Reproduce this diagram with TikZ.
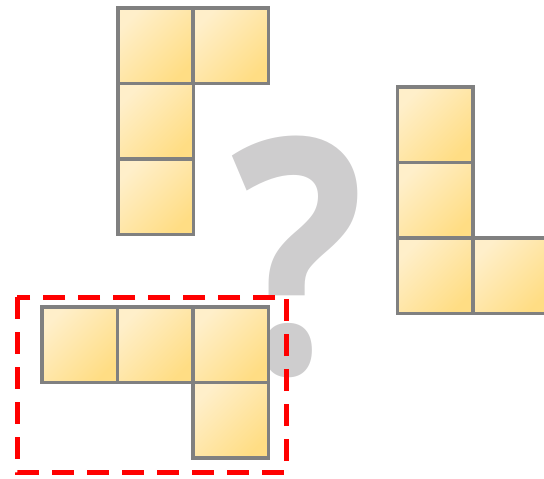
\documentclass[tikz,border=0pt]{standalone}
\usepackage{fontspec}
\newfontfamily\qfont{Open Sans}
\definecolor{tilelight}{RGB}{255,239,202}
\definecolor{tiledark}{RGB}{255,221,132}
\definecolor{tileedge}{RGB}{128,128,128}
\definecolor{qgray}{RGB}{206,205,206}
\definecolor{dashred}{RGB}{255,0,0}
\tikzset{
  tile/.style={shade, top color=tilelight, bottom color=tiledark, shading angle=45, draw=tileedge, line width=3.8pt},
  selbox/.style={draw=dashred, line width=5pt, dash pattern=on 22pt off 13pt},
}
\newcommand{\tileat}[2]{\path[tile] (#1,#2) rectangle ++(75.5,75.5);}
\begin{document}
\begin{tikzpicture}[x=1pt,y=-1pt]
\useasboundingbox (0,0) rectangle (544,479);
\node[inner sep=0, anchor=base, xscale=0.85, text=qgray, font=\qfont\bfseries\fontsize{328}{328}\selectfont] (q) at (298,373) {?};
% top piece
\tileat{118}{8}
\tileat{193}{8}
\tileat{118}{83.5}
\tileat{118}{159}
% right piece
\tileat{397.5}{87}
\tileat{397.5}{162.5}
\tileat{397.5}{238}
\tileat{473}{238}
% bottom piece
\tileat{42}{307}
\tileat{117.5}{307}
\tileat{193}{307}
\tileat{193}{382.5}
\draw[selbox] (17,297) rectangle (286,472);
\end{tikzpicture}
\end{document}
